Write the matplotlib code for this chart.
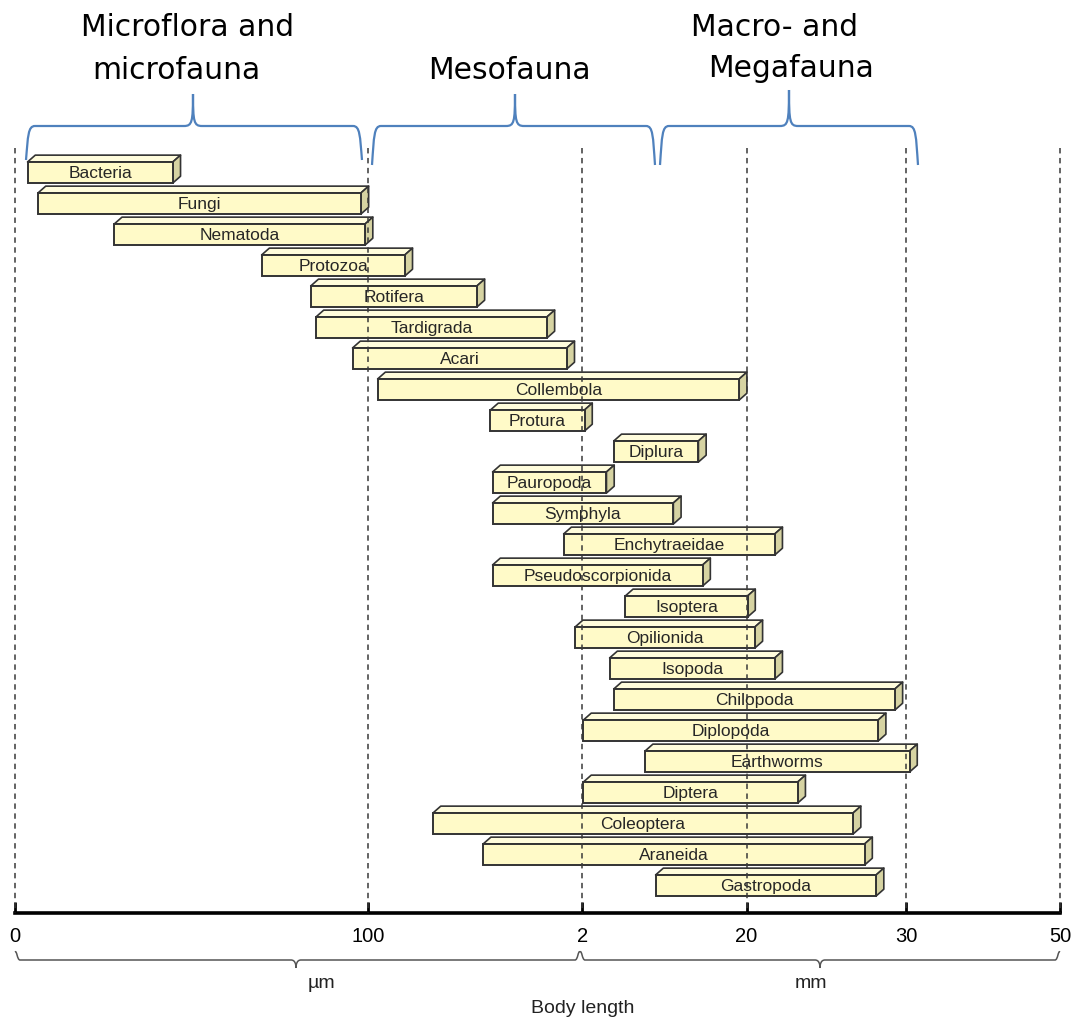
import numpy as np
import matplotlib.pyplot as plt
from matplotlib.patches import Polygon, Rectangle, PathPatch
from matplotlib.path import Path

# taxa, top to bottom
taxa = ['Bacteria', 'Fungi', 'Nematoda', 'Protozoa', 'Rotifera', 'Tardigrada', 'Acari',
        'Collembola', 'Protura', 'Diplura', 'Pauropoda', 'Symphyla', 'Enchytraeidae',
        'Pseudoscorpionida', 'Isoptera', 'Opilionida', 'Isopoda', 'Chilopoda', 'Diplopoda',
        'Earthworms', 'Diptera', 'Coleoptera', 'Araneida', 'Gastropoda']

# bar start / end along the (non linear) body-length scale, 0..100 = "0".."50 mm"
size_from = [1.2, 2.2, 9.5, 23.6, 28.3, 28.8, 32.3, 34.7, 45.5, 57.3, 45.7, 45.7,
             52.5, 45.7, 58.4, 53.6, 56.9, 57.3, 54.4, 60.3, 54.4, 40.0, 44.8, 61.3]
size_to = [15.1, 33.1, 33.5, 37.3, 44.2, 50.9, 52.8, 69.3, 54.5, 65.4, 56.6, 63.0,
           72.7, 65.8, 70.1, 70.8, 72.7, 84.2, 82.6, 85.6, 74.9, 80.2, 81.3, 82.4]

# axis ticks on the same scale
tick_pos = [0, 33.8, 54.3, 70.0, 85.3, 100]
tick_lab = ['0', '100', '2', '20', '30', '50']

W, H = 1072, 1021
fig = plt.figure(figsize=(W / 100, H / 100), dpi=100, facecolor='white')

# overlay in pixel coords for braces and captions
ov = fig.add_axes([0, 0, 1, 1])
ov.set_xlim(0, W)
ov.set_ylim(H, 0)
ov.axis('off')

# main axes
ax = fig.add_axes([15 / W, 1 - 913 / H, 1045 / W, (913 - 140) / H])
ax.patch.set_alpha(0)
ax.set_xlim(0, 100)
ax.set_ylim((913 - 172.5) / 31, (140 - 172.5) / 31)

FRONT = '#fffac8'
TOP = '#fffcdc'
SIDE = '#d6d3a2'
EDGE = '#333333'
h, dx, dy = 0.68, 0.74, 0.22

for i, (name, x0, x1) in enumerate(zip(taxa, size_from, size_to)):
    t, b = i - h / 2, i + h / 2
    ax.add_patch(Polygon([(x0, t), (x0 + dx, t - dy), (x1 + dx, t - dy), (x1, t)],
                         fc=TOP, ec=EDGE, lw=1.2, zorder=3, joinstyle='round'))
    ax.add_patch(Polygon([(x1, t), (x1 + dx, t - dy), (x1 + dx, b - dy), (x1, b)],
                         fc=SIDE, ec=EDGE, lw=1.2, zorder=3, joinstyle='round'))
    ax.add_patch(Rectangle((x0, t), x1 - x0, h, fc=FRONT, ec=EDGE, lw=1.4, zorder=3))
    ax.text((x0 + x1) / 2, i + 0.04, name, ha='center', va='center', fontsize=12.5,
            family='Liberation Sans', color='#262626', zorder=4)

ax.vlines(tick_pos, (148 - 172.5) / 31, (913 - 172.5) / 31, colors='#3a3a3a',
          linestyles=(0, (3, 2.5)), lw=1.3, alpha=0.85, zorder=5, clip_on=False)

for s in ['top', 'right', 'left']:
    ax.spines[s].set_visible(False)
ax.spines['bottom'].set_linewidth(2.6)
ax.spines['bottom'].set_color('black')
ax.set_yticks([])
ax.set_xticks(tick_pos)
ax.set_xticklabels(tick_lab, family='Liberation Sans')
ax.tick_params(axis='x', direction='in', length=8, width=2, pad=10, labelsize=14.5,
               colors='black')


def brace(x0, x1, xm, y, ytip, yend, r, **kw):
    s = 1 if yend > y else -1
    verts = [(x0, yend), (x0 + 2, y + s * 10), (x0 + 2, y), (x0 + r, y),
             (xm - r, y),
             (xm - 1, y), (xm, y - s * 4), (xm, ytip),
             (xm, y - s * 4), (xm + 1, y), (xm + r, y),
             (x1 - r, y),
             (x1 - 2, y), (x1 - 2, y + s * 10), (x1, yend)]
    codes = [Path.MOVETO, Path.CURVE4, Path.CURVE4, Path.CURVE4,
             Path.LINETO,
             Path.CURVE4, Path.CURVE4, Path.CURVE4,
             Path.CURVE4, Path.CURVE4, Path.CURVE4,
             Path.LINETO,
             Path.CURVE4, Path.CURVE4, Path.CURVE4]
    ov.add_patch(PathPatch(Path(verts, codes), fc='none', **kw))


blue = '#4f81bd'
brace(26, 362, 193, 126, 94, 160, 9, ec=blue, lw=1.6)
brace(372, 655, 515, 126, 94, 165, 9, ec=blue, lw=1.6)
brace(660, 918, 789, 126, 90, 165, 9, ec=blue, lw=1.6)

gfont = dict(family='DejaVu Sans', fontsize=21.4, ha='center', va='baseline', color='black')
ov.text(188, 36, 'Microflora and', **gfont)
ov.text(176, 79, 'microfauna', **gfont)
ov.text(509, 79, 'Mesofauna', **gfont)
ov.text(775, 36, 'Macro- and', **gfont)
ov.text(791, 77, 'Megafauna', **gfont)

grey = '#555555'
brace(15, 580, 296, 960, 968, 952, 5, ec=grey, lw=1.1)
brace(580, 1060, 820, 960, 968, 952, 5, ec=grey, lw=1.1)

bfont = dict(family='Liberation Sans', fontsize=14, ha='center', va='center', color='#222222')
ov.text(321, 983, '\u00b5m', **bfont)
ov.text(811, 983, 'mm', **bfont)
ov.text(583, 1008, 'Body length', **bfont)

fig.savefig('out.png', dpi=100, facecolor='white')
